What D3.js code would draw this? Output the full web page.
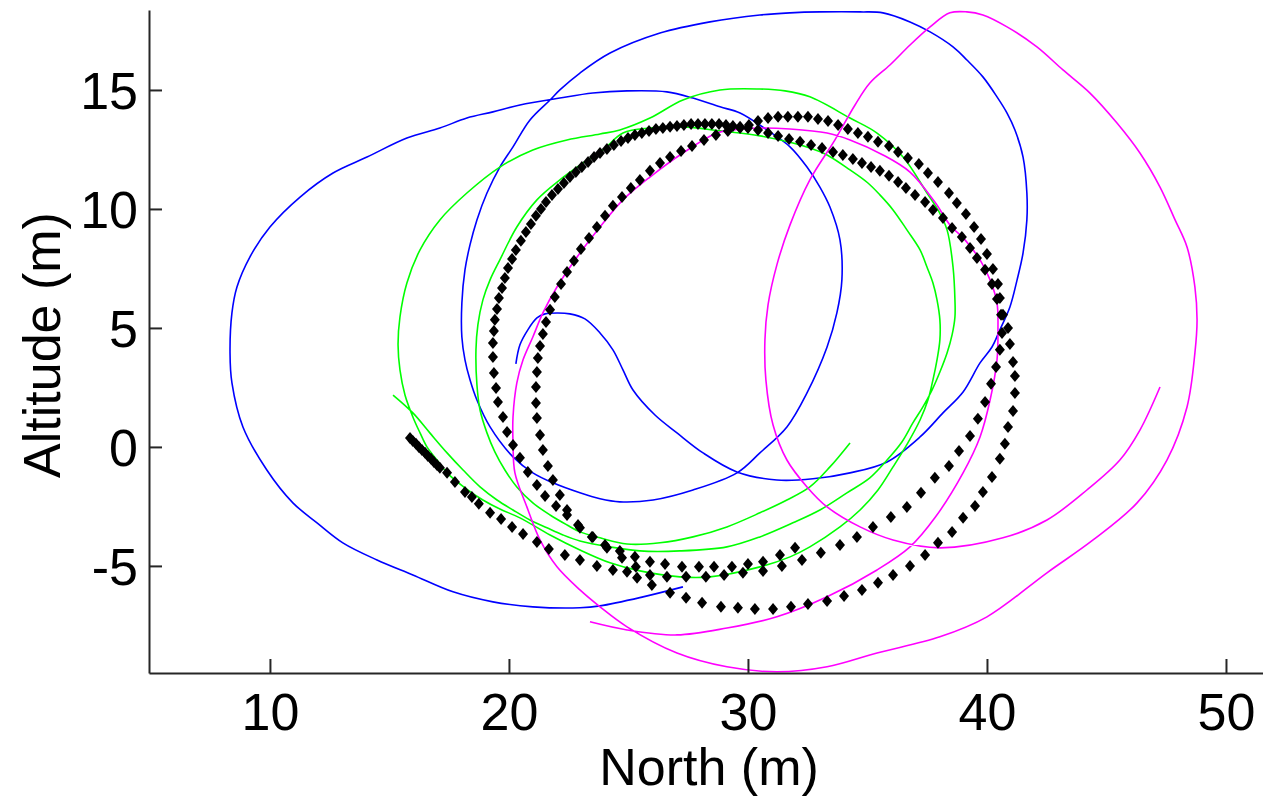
<!DOCTYPE html>
<html>
<head>
<meta charset="utf-8">
<script src="https://cdn.jsdelivr.net/npm/d3@7"></script>
<style>
  body { margin: 0; background: #fff; }
  svg { display: block; }
</style>
</head>
<body>
<script>
// tracks: [north (m), altitude (m)]
var blueTrack = [[20.29,3.49],[20.46,4.29],[20.79,4.92],[21.17,5.42],[21.51,5.59],[22.05,5.63],[22.55,5.59],[23.18,5.38],[23.81,4.79],[24.35,4.08],[24.77,3.24],[25.19,2.39],[26.11,1.34],[27.03,0.59],[28.12,-0.25],[29.54,-1.05],[31.21,-1.39],[32.72,-1.34],[34.27,-1.09],[35.82,-0.63],[37.20,0.42],[38.16,1.43],[39.00,2.31],[39.71,3.53],[40.21,4.20],[40.54,4.92],[40.96,5.88],[41.26,7.02],[41.51,8.15],[41.67,9.54],[41.67,10.67],[41.51,12.18],[41.17,13.32],[40.84,14.03],[40.42,14.71],[39.83,15.55],[39.16,16.26],[38.58,16.81],[37.62,17.44],[36.78,17.86],[35.65,18.24],[34.69,18.28],[33.01,18.28],[31.76,18.24],[30.50,18.15],[28.41,17.86],[26.32,17.39],[24.23,16.55],[22.97,15.71],[22.13,15.00],[21.72,14.58],[20.88,13.74],[20.17,12.61],[19.62,11.76],[19.08,10.67],[18.66,9.54],[18.37,8.49],[18.16,7.44],[18.03,6.05],[18.03,4.62],[18.16,3.66],[18.37,2.82],[18.66,1.97],[19.21,0.84],[20.17,-0.42],[21.00,-1.09],[21.84,-1.51],[22.97,-1.93],[23.81,-2.18],[24.64,-2.31],[26.03,-2.23],[27.70,-1.81],[29.54,-1.09],[30.50,-0.25],[31.63,0.84],[32.47,2.27],[33.31,4.20],[33.72,5.63],[33.93,7.02],[33.85,8.70],[33.43,10.08],[33.01,10.92],[32.47,11.76],[31.76,12.61],[30.79,13.32],[29.67,14.03],[28.83,14.29],[27.70,14.66],[26.61,14.92],[24.94,14.96],[23.51,14.87],[22.13,14.66],[20.46,14.37],[19.33,14.08],[18.24,13.82],[17.11,13.40],[15.73,12.98],[14.06,12.18],[12.64,11.51],[11.26,10.50],[10.00,9.24],[9.16,7.98],[8.62,6.72],[8.41,5.63],[8.33,3.95],[8.41,2.69],[8.87,0.84],[9.87,-0.97],[10.96,-2.35],[11.97,-3.19],[13.05,-4.03],[14.48,-4.75],[15.98,-5.38],[17.66,-6.09],[19.33,-6.51],[21.00,-6.72],[22.97,-6.76],[23.81,-6.68],[25.61,-6.30],[27.28,-5.88]];

var greenTrack = [[15.15,2.18],[15.98,1.43],[16.69,0.59],[17.41,-0.25],[18.08,-0.97],[18.79,-1.68],[19.50,-2.23],[20.17,-2.65],[20.88,-3.07],[21.59,-3.40],[22.26,-3.70],[22.97,-3.95],[24.23,-4.20],[25.48,-4.37],[27.15,-4.37],[29.12,-4.20],[30.50,-3.78],[31.88,-3.19],[33.01,-2.65],[34.14,-1.93],[35.10,-1.30],[35.82,-0.55],[36.44,0.21],[36.90,1.01],[37.32,1.68],[37.70,2.39],[38.03,3.15],[38.33,3.95],[38.54,4.71],[38.66,5.46],[38.66,6.18],[38.58,7.56],[38.33,9.12],[37.95,9.96],[37.49,10.67],[36.49,12.18],[35.40,13.19],[34.27,13.82],[32.59,14.71],[31.55,14.96],[30.50,15.04],[28.83,15.00],[27.28,14.58],[25.90,13.82],[24.64,13.32],[23.81,13.15],[22.43,12.90],[21.00,12.48],[19.62,11.76],[18.24,10.67],[17.11,9.54],[16.28,8.28],[15.73,6.89],[15.44,5.46],[15.36,4.29],[15.44,3.24],[15.65,2.18],[15.98,1.26],[16.28,0.59],[16.57,0.00],[16.99,-0.55],[17.41,-1.09],[18.16,-1.72],[18.91,-2.23],[19.62,-2.61],[20.46,-2.98],[21.72,-3.70],[22.97,-4.33],[24.23,-4.87],[25.48,-5.21],[27.15,-5.46],[28.41,-5.46],[30.50,-5.04],[31.76,-4.62],[32.59,-4.20],[33.85,-3.36],[34.69,-2.65],[35.44,-1.81],[36.07,-0.84],[36.69,0.17],[37.20,1.13],[37.53,1.97],[37.74,2.82],[37.91,3.66],[38.03,4.50],[38.03,5.34],[37.91,6.18],[37.74,6.89],[37.49,7.56],[37.20,8.28],[36.65,9.12],[36.07,9.96],[35.52,10.59],[35.02,11.09],[34.27,11.64],[33.31,12.27],[32.59,12.56],[31.88,12.77],[30.50,13.07],[28.83,13.28],[27.28,13.45],[25.90,13.40],[24.77,13.19],[23.93,12.48],[23.10,11.93],[22.13,11.22],[21.17,10.38],[20.33,9.24],[19.62,7.86],[19.21,7.02],[18.91,6.18],[18.70,5.13],[18.62,4.08],[18.66,2.61],[18.79,1.55],[19.08,0.59],[19.41,-0.21],[19.83,-0.97],[20.33,-1.68],[21.00,-2.35],[21.72,-2.86],[22.43,-3.28],[22.97,-3.57],[23.81,-3.82],[24.94,-4.08],[26.32,-4.03],[27.70,-3.78],[29.12,-3.36],[30.50,-2.77],[31.63,-2.23],[32.59,-1.68],[33.43,-0.84],[34.27,0.17]];

var magentaTrack = [[23.39,-7.35],[24.94,-7.69],[27.03,-7.90],[29.12,-7.61],[31.21,-7.14],[33.31,-6.30],[35.40,-5.17],[36.78,-4.20],[37.82,-2.98],[39.00,-1.09],[39.71,0.42],[40.13,1.97],[40.42,3.66],[40.46,4.92],[40.42,6.05],[40.13,7.02],[39.71,7.86],[39.08,8.70],[38.45,9.33],[37.82,10.29],[36.78,11.55],[35.65,12.27],[34.27,12.90],[33.31,13.19],[31.76,13.36],[30.50,13.40],[29.37,13.32],[28.70,13.19],[27.28,12.35],[25.90,11.34],[24.77,10.38],[23.81,9.24],[22.85,7.98],[22.01,6.72],[21.42,5.63],[21.00,4.62],[20.59,3.66],[20.33,2.69],[20.17,1.26],[20.17,0.17],[20.25,-1.09],[20.75,-2.52],[21.30,-3.91],[22.01,-5.04],[22.97,-6.01],[23.81,-6.72],[24.94,-7.56],[27.03,-8.66],[29.12,-9.24],[31.21,-9.45],[33.31,-9.24],[35.40,-8.66],[38.03,-7.98],[40.00,-7.14],[42.51,-5.29],[44.44,-3.91],[46.28,-2.35],[47.53,-0.55],[48.37,1.68],[48.70,3.95],[48.79,5.34],[48.70,6.72],[48.37,8.40],[47.87,9.54],[47.24,10.92],[46.40,12.35],[45.44,13.61],[44.31,14.87],[43.18,15.84],[42.09,16.81],[40.84,17.65],[39.83,18.15],[39.16,18.28],[38.45,18.24],[37.62,17.65],[36.78,16.89],[35.94,16.05],[35.10,15.29],[34.48,14.37],[33.64,12.90],[32.59,11.22],[31.76,9.33],[31.21,7.65],[30.84,5.97],[30.71,4.50],[30.75,2.82],[31.05,0.92],[31.63,-0.55],[32.47,-1.68],[33.31,-2.52],[34.69,-3.36],[36.07,-3.91],[38.03,-4.24],[40.67,-3.82],[42.51,-3.07],[44.18,-1.81],[45.56,-0.55],[46.40,0.71],[47.24,2.52]];

// black diamond samples, in flight order
var diamondTrack = [[15.86,0.38],[15.98,0.25],[16.11,0.13],[16.23,0],[16.36,-0.13],[16.49,-0.25],[16.61,-0.38],[16.74,-0.50],[16.86,-0.63],[16.99,-0.76],[17.11,-0.88],
  [17.41,-1.09],[17.74,-1.47],[18.16,-1.89],[18.45,-2.10],[18.74,-2.39],[19.21,-2.77],[19.67,-3.03],[20.13,-3.36],[20.59,-3.66],[21.17,-3.99],[21.67,-4.29],[22.34,-4.54],[22.97,-4.75],[23.68,-5.00],[24.35,-5.17],[24.94,-5.25],[25.36,-5.50],
  [25.98,-5.80],[26.74,-6.13],[27.41,-6.34],[28.08,-6.55],[28.87,-6.72],[29.58,-6.76],[30.29,-6.81],[31.05,-6.81],[31.80,-6.72],[32.51,-6.60],[33.31,-6.47],[34.02,-6.26],[34.77,-6.01],[35.44,-5.71],[36.07,-5.38],[36.78,-5.00],[37.41,-4.54],
  [37.95,-4.03],[38.54,-3.57],[39.00,-2.98],[39.50,-2.48],[39.83,-1.89],[40.21,-1.26],[40.54,-0.50],[40.75,0.13],[40.88,0.84],[41.09,1.51],[41.17,2.27],[41.17,2.98],[41.09,3.57],[40.96,4.33],[40.88,5.00],[40.67,5.55],[40.54,6.26],[40.46,6.85],[40.25,7.48],[40.00,8.11],[39.75,8.74],[39.46,9.24],[39.12,9.79],[38.74,10.25],[38.41,10.67],[37.95,11.13],[37.53,11.51],[37.15,11.89],[36.69,12.14],[36.28,12.39],[35.90,12.65],[35.44,12.82],[35.02,13.03],[34.60,13.19],[34.18,13.36],[33.77,13.53],[33.35,13.70],[32.93,13.78],[32.51,13.87],[32.09,13.87],[31.67,13.87],[31.26,13.87],[30.84,13.82],[30.42,13.70],[30.04,13.53],
  [29.67,13.45],[29.37,13.49],[29.08,13.53],[28.79,13.57],[28.49,13.57],[28.20,13.57],[27.91,13.57],[27.62,13.57],[27.32,13.53],[27.03,13.49],[26.74,13.45],[26.44,13.40],[26.15,13.36],[25.86,13.28],[25.56,13.19],[25.27,13.11],[24.98,12.98],[24.69,12.86],[24.39,12.69],[24.10,12.52],[23.81,12.35],[23.56,12.18],[23.31,11.97],[23.05,11.76],[22.80,11.55],[22.55,11.34],[22.30,11.09],[22.05,10.84],[21.80,10.59],[21.55,10.29],[21.34,10.00],[21.13,9.71],[20.92,9.37],[20.71,9.03],[20.50,8.66],[20.29,8.28],[20.13,7.90],[19.96,7.52],[19.83,7.10],[19.71,6.68],[19.58,6.26],[19.50,5.80],[19.41,5.34],[19.37,4.87],[19.33,4.37],[19.33,3.78],[19.37,3.11],[19.46,2.48],[19.54,1.89],[19.75,1.26],[19.92,0.63],[20.17,0.08],[20.46,-0.46],[20.79,-1.05],[21.17,-1.60],[21.51,-2.06],[21.97,-2.48],[22.43,-2.86],[22.97,-3.40],[23.51,-3.78],[24.10,-4.24],[24.73,-4.66],[25.31,-5.04],
  [25.90,-5.38],[26.61,-5.46],[27.41,-5.46],[28.24,-5.46],[29.00,-5.38],[29.79,-5.29],[30.63,-5.21],[31.42,-5.00],[32.26,-4.75],[33.05,-4.45],[33.85,-4.12],[34.56,-3.78],[35.23,-3.36],[35.98,-2.94],[36.65,-2.52],[37.24,-1.93],[37.82,-1.30],
  [38.41,-0.80],[38.83,-0.17],[39.29,0.46],[39.62,1.18],[39.92,1.89],[40.17,2.65],[40.38,3.36],[40.54,4.08],[40.63,4.79],[40.59,5.55],[40.42,6.22],[40.21,6.85],[39.92,7.44],[39.58,7.94],[39.29,8.36],[38.95,8.82],[38.54,9.20],[38.16,9.62],[37.74,9.96],[37.41,10.29],[36.99,10.59],[36.61,10.88],[36.28,11.13],[35.90,11.39],[35.52,11.60],[35.15,11.76],[34.77,11.93],[34.39,12.10],[33.97,12.27],[33.56,12.39],[33.10,12.56],[32.64,12.69],[32.18,12.82],[31.72,12.94],[31.26,13.07],[30.84,13.19],[30.42,13.32],[30.00,13.40],
  [29.67,13.40],[29.16,13.28],[28.66,13.11],[28.16,12.90],[27.66,12.65],[27.20,12.44],[26.74,12.18],[26.32,11.93],[25.90,11.60],[25.48,11.22],[25.10,10.88],[24.73,10.50],[24.35,10.13],[24.02,9.71],[23.68,9.24],[23.35,8.78],[23.01,8.32],[22.72,7.82],[22.43,7.35],[22.18,6.85],[21.92,6.30],[21.72,5.76],[21.55,5.25],[21.42,4.75],[21.30,4.24],[21.21,3.74],[21.17,3.15],[21.13,2.52],[21.13,1.85],[21.17,1.22],[21.30,0.50],[21.42,-0.13],[21.63,-0.80],[21.84,-1.39],[22.13,-2.02],[22.43,-2.65],[22.89,-3.28],[23.47,-3.78],[24.02,-4.12],[24.64,-4.37],[25.27,-4.62],[25.90,-4.83],[26.53,-4.92],[27.24,-5.04],[27.95,-5.04],[28.58,-5.04],[29.33,-5.04],[30.00,-4.92],[30.63,-4.83],[31.34,-4.54],[31.97,-4.24]];

var xTicks = [10, 20, 30, 40, 50];
var yTicks = [-5, 0, 5, 10, 15];
var xTitle = "North (m)";
var yTitle = "Altitude (m)";

var width = 1263, height = 796;
var fontFamily = "'Liberation Sans', Arial, Helvetica, sans-serif";

var svg = d3.select("body")
            .append("svg")
            .attr("width", width)
            .attr("height", height);

// equal-aspect axes, tight in altitude
var x = d3.scaleLinear().domain([4.94, 51.8]).range([149, 1269]);
var y = d3.scaleLinear().domain([-9.5, 18.36]).range([673, 10]);

var line = d3.line()
             .x(function(d) { return x(d[0]); })
             .y(function(d) { return y(d[1]); })
             .curve(d3.curveCatmullRom);

var tracks = [
  { data: blueTrack, color: "#0000ff" },
  { data: greenTrack, color: "#00ff00" },
  { data: magentaTrack, color: "#ff00ff" }
];

svg.selectAll(".track")
   .data(tracks)
   .enter()
   .append("path")
   .attr("class", "track")
   .attr("d", function(d) { return line(d.data); })
   .style("fill", "none")
   .style("stroke", function(d) { return d.color; })
   .style("stroke-width", 1.6);

svg.selectAll(".diamond")
   .data(diamondTrack)
   .enter()
   .append("path")
   .attr("class", "diamond")
   .attr("d", "M0,-6L5,0L0,6L-5,0Z")
   .attr("transform", function(d) { return "translate(" + x(d[0]) + "," + y(d[1]) + ")"; })
   .style("fill", "#000");

// axes, MATLAB style: inward ticks, no box, plain hyphen for negatives
var plain = function(d) { return String(d); };
var xAxis = d3.axisBottom(x).tickValues(xTicks).tickFormat(plain).tickSize(-14).tickSizeOuter(0).tickPadding(20);
var yAxis = d3.axisLeft(y).tickValues(yTicks).tickFormat(plain).tickSize(-13).tickSizeOuter(0).tickPadding(11);

var gx = svg.append("g").attr("transform", "translate(0,673)").call(xAxis);
var gy = svg.append("g").attr("transform", "translate(149,0)").call(yAxis);

[gx, gy].forEach(function(g) {
  g.selectAll("path, line").style("stroke", "#262626").style("stroke-width", 2);
  g.selectAll("text")
   .style("font-family", fontFamily)
   .style("font-size", "52px")
   .style("fill", "#000");
});
gy.selectAll("text").attr("dy", "0.35em");

svg.append("text")
   .attr("x", 709)
   .attr("y", 785)
   .attr("text-anchor", "middle")
   .style("font-family", fontFamily)
   .style("font-size", "52px")
   .text(xTitle);

svg.append("text")
   .attr("transform", "translate(60,345) rotate(-90)")
   .attr("text-anchor", "middle")
   .style("font-family", fontFamily)
   .style("font-size", "52px")
   .text(yTitle);
</script>
</body>
</html>
